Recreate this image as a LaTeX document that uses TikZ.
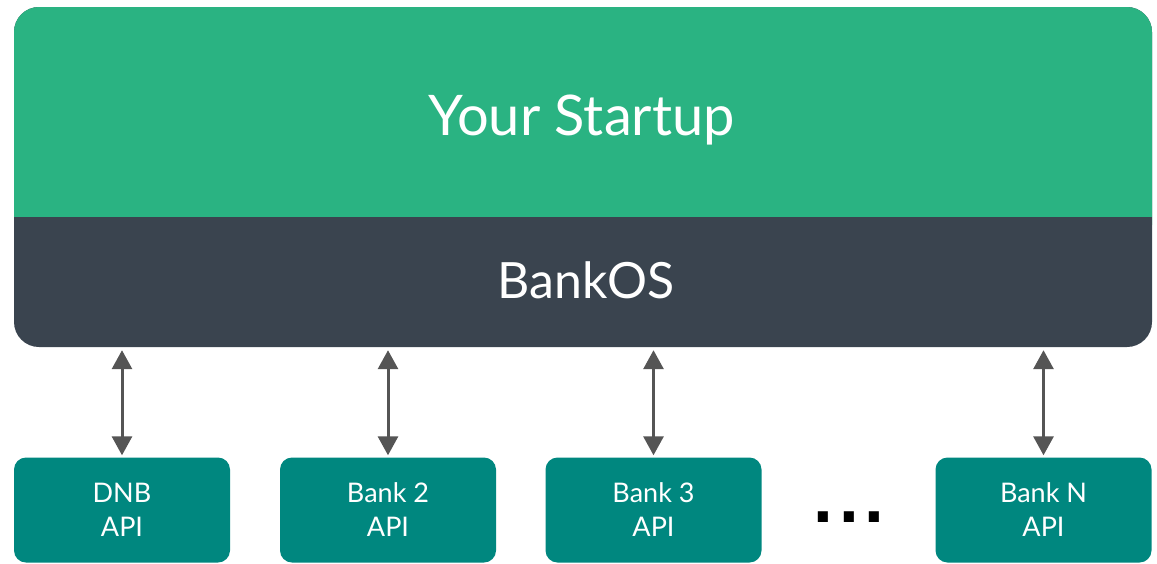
\documentclass[tikz,border=0pt]{standalone}
\usepackage{fontspec}
\setmainfont{Lato}
\newfontfamily\dotfont{DejaVu Sans Bold}
\usetikzlibrary{arrows.meta}
\definecolor{startgreen}{HTML}{2AB382}
\definecolor{osdark}{HTML}{3A444F}
\definecolor{bankteal}{HTML}{00877F}
\definecolor{arrowgray}{HTML}{555555}
\tikzset{
  bankbox/.style={fill=bankteal, rounded corners=12pt, minimum width=216pt, minimum height=105pt,
    text=white, align=center, inner sep=0pt, font=\fontsize{27}{34}\selectfont},
  link/.style={arrowgray, line width=3pt, {Triangle[width=20pt,length=19pt]}-{Triangle[width=20pt,length=19pt]}, shorten <=3pt, shorten >=2pt},
}
\begin{document}
\begin{tikzpicture}[x=1pt,y=-1pt]
\useasboundingbox (0,0) rectangle (1157,563);
% platform shape
\fill[osdark, rounded corners=25pt] (14,7) rectangle (1152,347);
\fill[startgreen, rounded corners=25pt] (14,7) rectangle (1152,250);
\fill[osdark] (14,217) rectangle (1152,300);
\node[inner sep=0pt, minimum width=1138pt, minimum height=210pt] (startband) at (583,112) {};
\node[inner sep=0pt, minimum width=1138pt, minimum height=130pt] (osband) at (583,282) {};
\node[anchor=base, text=white, font=\fontsize{56}{60}\selectfont, inner sep=0pt] (startup) at (581.5,135) {Your Startup};
\node[anchor=base, text=white, font=\fontsize{50}{56}\selectfont, inner sep=0pt] (bankos) at (586,298) {BankOS};
% banks
\node[bankbox] (dnb) at (122,510) {DNB\\API};
\node[bankbox] (bank2) at (388,510) {Bank 2\\API};
\node[bankbox] (bank3) at (653.5,510) {Bank 3\\API};
\node[bankbox] (bankn) at (1043.5,510) {Bank N\\API};
\node[anchor=base, inner sep=0pt, font=\dotfont\fontsize{57}{60}\selectfont] (dots) at (849,522) {.\kern4pt.\kern4pt.};
% links
\foreach \b in {dnb,bank2,bank3,bankn}
  \draw[link] (\b.north |- osband.south) -- (\b.north);
\end{tikzpicture}
\end{document}
